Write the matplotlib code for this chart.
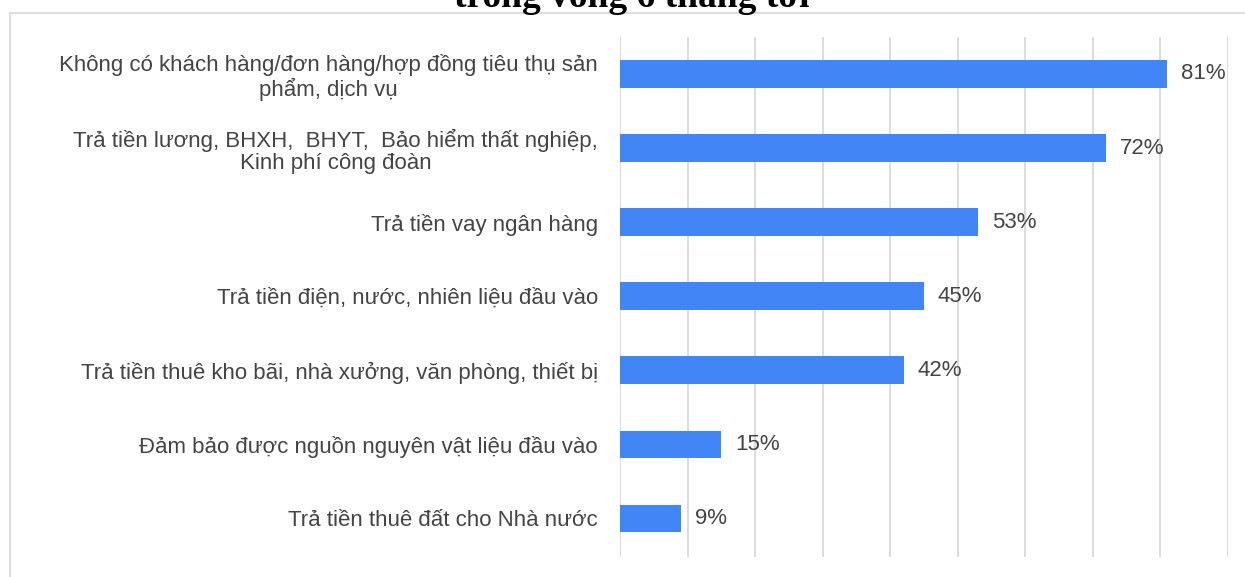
import matplotlib.pyplot as plt
from matplotlib.lines import Line2D

plt.rcParams['font.family'] = ['Liberation Sans', 'DejaVu Sans']

labels = [
    "Không có khách hàng/đơn hàng/hợp đồng tiêu thụ sản\nphẩm, dịch vụ",
    "Trả tiền lương, BHXH,  BHYT,  Bảo hiểm thất nghiệp,\nKinh phí công đoàn",
    "Trả tiền vay ngân hàng",
    "Trả tiền điện, nước, nhiên liệu đầu vào",
    "Trả tiền thuê kho bãi, nhà xưởng, văn phòng, thiết bị",
    "Đảm bảo được nguồn nguyên vật liệu đầu vào",
    "Trả tiền thuê đất cho Nhà nước",
]
values = [81, 72, 53, 45, 42, 15, 9]
grid_ticks = [0, 10, 20, 30, 40, 50, 60, 70, 80, 90]

fig = plt.figure(figsize=(12.45, 5.77), dpi=100)
ax = fig.add_axes([0.498, 0.035, 0.488, 0.901])

y = list(range(len(values)))
ax.barh(y, values, height=0.37, color='#4285F4', zorder=2)
for yi, v in zip(y, values):
    ax.text(v + 2.1, yi, f"{v}%", va='center', ha='left',
            fontsize=16, color='#444444')

ax.set_ylim(len(values) - 0.5 + 0.02, -0.5)
ax.set_xlim(0, 90)
ax.set_xticks(grid_ticks)
ax.set_xticklabels([])
ax.tick_params(axis='x', length=0)
ax.grid(axis='x', color='#d9d9d9', linewidth=1.3, zorder=0)
ax.set_yticks(y)
ax.set_yticklabels(labels, fontsize=16, color='#444444',
                   multialignment='center', linespacing=1.1)
ax.tick_params(axis='y', length=0, pad=16)
for s in ax.spines.values():
    s.set_visible(False)

# outer frame (left and top edges only)
fig.add_artist(Line2D([10 / 1245, 10 / 1245], [0, 1 - 13 / 577],
                      transform=fig.transFigure, color='#dddddd', lw=1.6))
fig.add_artist(Line2D([10 / 1245, 1], [1 - 13 / 577, 1 - 13 / 577],
                      transform=fig.transFigure, color='#dddddd', lw=1.6))

fig.text(632 / 1245, 1 - 7 / 577, "trong vòng 6 tháng tới", ha='center',
         va='baseline', fontsize=27, fontweight='bold',
         family=['Liberation Serif', 'DejaVu Serif'], color='black')

fig.savefig('out.png', dpi=100)
